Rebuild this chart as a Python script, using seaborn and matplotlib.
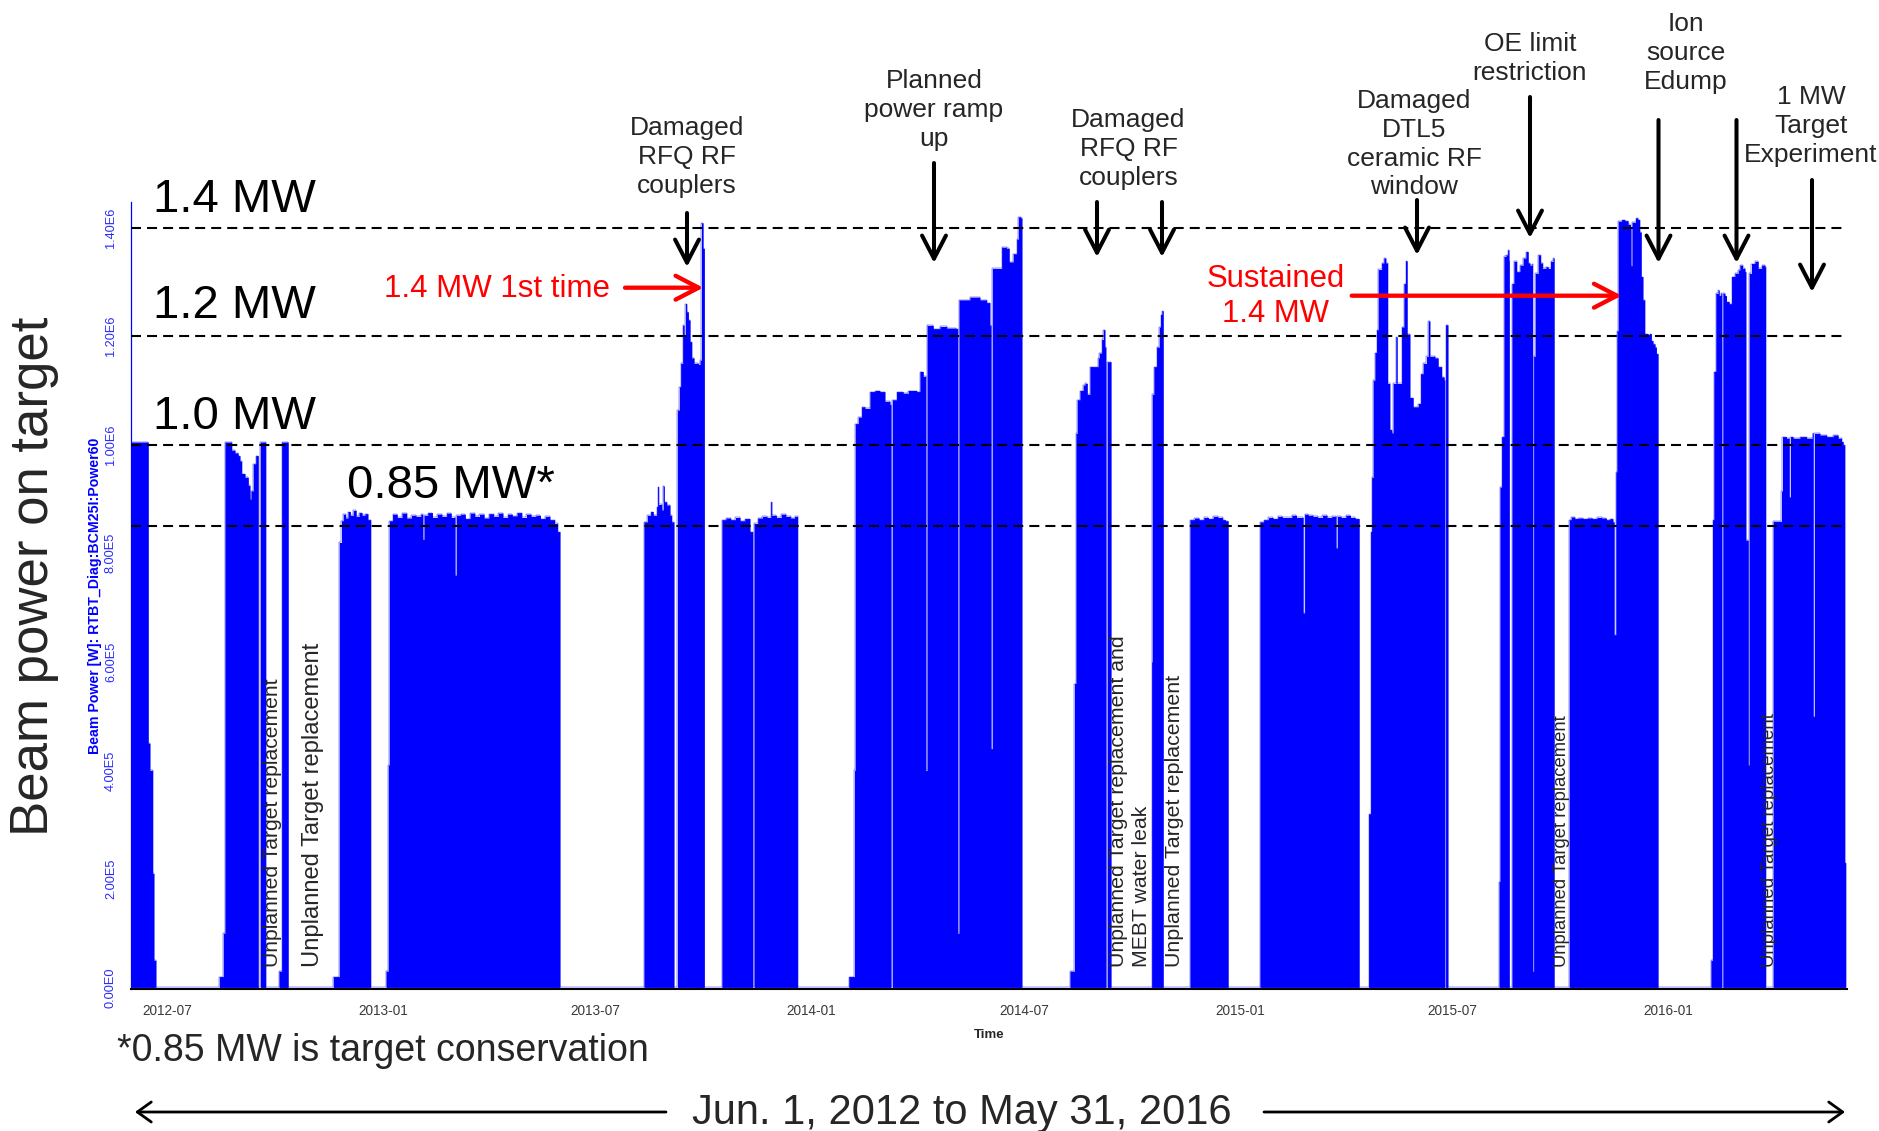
import numpy as np
import pandas as pd
import matplotlib
matplotlib.use("Agg")
import matplotlib.pyplot as plt
import matplotlib.dates as mdates
from matplotlib import font_manager
from matplotlib.patches import FancyArrowPatch
from matplotlib.ticker import FixedLocator, MultipleLocator
import seaborn as sns

# ---------------- data: (days since 2012-06-01, beam power in MW), step-post ----------------
START = "2012-06-01"
run_2012_jun = [(-0.9, 1.005), (13.9, 0.45), (15.3, 0.40), (17.6, 0.21), (18.7, 0.05), (20.4, 0.0)]
run_2012_aug = [(74.4, 0.02), (77.8, 0.10), (79.2, 1.005), (84.9, 0.99), (87.7, 0.985), (90.5, 0.98),
                (92.0, 0.97), (93.4, 0.947), (96.3, 0.94), (99.1, 0.925), (100.5, 0.90), (101.4, 0.915),
                (103.3, 0.965), (105.4, 0.98), (107.6, 0.0), (109.3, 1.005), (113.9, 0.0),
                (125.2, 0.03), (127.5, 1.005), (133.1, 0.0)]
run_2012_nov = [(171.5, 0.02), (176.6, 0.82), (178.5, 0.86), (180.0, 0.872), (182.0, 0.865), (184.0, 0.877),
                (186.0, 0.87), (188.5, 0.879), (191.0, 0.868), (193.5, 0.875), (196.0, 0.87), (198.5, 0.873),
                (201.0, 0.862), (203.3, 0.0)]
run_2013_jan = [(216.4, 0.03), (218.3, 0.41), (219.2, 0.86), (222, 0.872), (226, 0.866), (230, 0.874),
                (234, 0.865), (238, 0.87), (242, 0.868), (246, 0.872), (247.6, 0.826), (248.8, 0.87),
                (252, 0.875), (256, 0.866), (260, 0.872), (264, 0.868), (268, 0.874), (272, 0.866),
                (275.1, 0.76), (276.3, 0.87), (280, 0.872), (284, 0.864), (288, 0.874), (292, 0.868),
                (296, 0.872), (300, 0.865), (304, 0.873), (308, 0.868), (312, 0.874), (316, 0.866),
                (320, 0.872), (324, 0.869), (328, 0.875), (332, 0.866), (336, 0.872), (340, 0.868),
                (344, 0.87), (348, 0.864), (352, 0.868), (356, 0.862), (360, 0.855), (362.5, 0.84), (364.6, 0.0)]
run_2013_aug = [(436.1, 0.858), (439.0, 0.87), (441.8, 0.877), (444.1, 0.87), (446.9, 0.886), (447.8, 0.923),
                (448.6, 0.89), (451.2, 0.88), (452.6, 0.924), (453.5, 0.895), (455.5, 0.889), (458.3, 0.87),
                (459.7, 0.858), (461.7, 0.0)]
run_2013_sep = [(464.6, 1.064), (466.3, 1.107), (467.4, 1.15), (469.1, 1.22), (470.3, 1.20), (471.4, 1.26),
                (472.5, 1.245), (474.0, 1.23), (475.4, 1.19), (476.8, 1.16), (478.8, 1.15), (482.5, 1.148),
                (483.9, 1.156), (485.1, 1.409), (486.5, 1.362), (487.6, 0.0)]
run_2013_oct = [(502.5, 0.862), (506, 0.865), (510, 0.862), (514, 0.866), (518, 0.86), (522, 0.864),
                (526.4, 0.84), (528.7, 0.0), (529.9, 0.855), (533, 0.865), (537, 0.868), (541, 0.866),
                (544.1, 0.895), (545, 0.87), (549, 0.866), (553, 0.872), (557, 0.868), (561, 0.865),
                (564.5, 0.868), (567.0, 0.0)]
run_2014_feb = [(610.6, 0.02), (615.4, 0.40), (616.1, 1.039), (618.7, 1.051), (621.5, 1.07), (624.4, 1.067),
                (628.6, 1.098), (632.9, 1.10), (637.1, 1.098), (641.4, 1.08), (645.7, 1.074), (646.5, 0.0),
                (647.7, 1.083), (651.3, 1.098), (657.0, 1.095), (661.3, 1.10), (668.4, 1.098), (671.2, 1.135),
                (674.1, 1.126), (676.1, 0.40), (677.3, 1.22), (682.6, 1.214), (688.3, 1.218), (694.0, 1.215),
                (701.9, 1.214), (703.3, 0.10), (704.5, 1.267), (713.8, 1.272), (722.3, 1.267), (728.0, 1.262),
                (730.8, 1.22), (731.7, 0.44), (732.9, 1.325), (737.9, 1.325), (740.8, 1.364), (745.0, 1.362),
                (747.3, 1.337), (750.7, 1.352), (753.6, 1.379), (755.0, 1.42), (757.0, 1.418), (758.1, 0.0)]
run_2014_aug = [(799.0, 0.03), (802.8, 0.56), (804.1, 1.021), (805.2, 1.083), (807.5, 1.10), (810.3, 1.11),
                (811.8, 1.113), (813.8, 1.093), (816.0, 1.144), (821.7, 1.144), (823.0, 1.16), (824.0, 1.169),
                (826.0, 1.194), (827.4, 1.212), (828.8, 1.18), (829.6, 0.0), (830.8, 1.153), (834.0, 0.0)]
run_2014_oct = [(868.6, 0.6), (869.1, 1.093), (870.5, 1.144), (872.8, 1.18), (875.1, 1.217), (876.2, 1.24),
                (877.4, 1.247), (878.5, 0.0)]
run_2014_nov = [(901.2, 0.862), (905, 0.865), (909, 0.862), (913, 0.866), (917, 0.864), (921, 0.868),
                (925, 0.866), (929, 0.862), (931.5, 0.86), (933.8, 0.0)]
run_2015_jan = [(960.8, 0.858), (964, 0.862), (968, 0.866), (972, 0.864), (976, 0.868), (980, 0.866),
                (984, 0.866), (988, 0.87), (992, 0.866), (997.7, 0.69), (998.9, 0.872), (1002, 0.87),
                (1006, 0.868), (1010, 0.866), (1014, 0.87), (1018, 0.866), (1022, 0.868), (1025.6, 0.81),
                (1026.8, 0.868), (1030, 0.866), (1034, 0.87), (1038, 0.866), (1042, 0.864), (1045.4, 0.0)]
run_2015_apr = [(1053.4, 0.32), (1055.1, 0.84), (1056.0, 0.94), (1057.3, 1.119), (1058.8, 1.17), (1060.2, 1.212),
                (1061.6, 1.323), (1064.5, 1.335), (1066.4, 1.344), (1068.1, 1.335), (1069.6, 1.113),
                (1071.5, 1.028), (1073.0, 1.022), (1074.3, 1.113), (1076.7, 1.199), (1077.8, 1.113),
                (1081.5, 1.217), (1083.5, 1.297), (1084.9, 1.339), (1086.3, 1.204), (1088.6, 1.087),
                (1091.4, 1.07), (1095.7, 1.076), (1097.7, 1.131), (1099.9, 1.15), (1102.7, 1.163),
                (1104.2, 1.228), (1105.6, 1.163), (1109.9, 1.16), (1112.7, 1.144), (1115.6, 1.125),
                (1117.8, 1.119), (1118.2, 0.0), (1119.0, 1.221), (1121.0, 0.0)]
run_2015_aug = [(1164.5, 0.195), (1165.3, 0.922), (1166.7, 1.015), (1168.7, 1.347), (1170.4, 1.350),
                (1171.9, 1.359), (1173.0, 1.34), (1173.3, 0.0), (1175.5, 1.297), (1177.2, 1.338),
                (1179.5, 1.319), (1182.3, 1.331), (1185.1, 1.344), (1187.4, 1.356), (1189.4, 1.335),
                (1190.8, 1.331), (1192.8, 1.334), (1193.1, 0.03), (1194.0, 1.163), (1195.3, 1.316),
                (1197.9, 1.350), (1199.9, 1.335), (1201.6, 1.325), (1204.4, 1.328), (1206.4, 1.325),
                (1208.4, 1.338), (1210.6, 1.344), (1211.5, 0.0)]
run_2015_oct = [(1224.3, 0.862), (1226, 0.867), (1229, 0.864), (1232, 0.865), (1236, 0.864), (1240, 0.865),
                (1244, 0.864), (1248, 0.866), (1252, 0.865), (1256, 0.862), (1259, 0.864), (1261.5, 0.858),
                (1262.6, 0.65)]
run_2015_nov = [(1264.0, 0.95), (1264.9, 1.21), (1266.0, 1.412), (1268.9, 1.415), (1271.7, 1.413),
                (1274.5, 1.406), (1276.5, 1.40), (1276.8, 1.33), (1277.8, 1.41), (1280.8, 1.418),
                (1282.8, 1.415), (1284.3, 1.392), (1285.7, 1.31), (1287.1, 1.267), (1288.6, 1.205),
                (1291.4, 1.203), (1292.8, 1.205), (1294.3, 1.192), (1295.7, 1.186), (1297.4, 1.18),
                (1298.6, 1.168), (1300.0, 0.0)]
run_2016_feb = [(1345.0, 0.05), (1346.4, 0.862), (1347.5, 1.135), (1349.2, 1.279), (1351.2, 1.285),
                (1352.1, 1.275), (1353.5, 1.279), (1354.1, 0.0), (1355.2, 1.279), (1356.9, 1.275),
                (1358.3, 1.264), (1360.6, 1.26), (1362.6, 1.31), (1365.4, 1.316), (1368.3, 1.322),
                (1369.7, 1.331), (1372.0, 1.325), (1374.0, 1.319), (1374.8, 0.824), (1376.8, 0.41),
                (1377.6, 1.316), (1379.6, 1.334), (1382.5, 1.338), (1385.3, 1.325), (1388.2, 1.331),
                (1391.0, 1.328), (1391.6, 0.0)]
run_2016_apr = [(1398.0, 0.859), (1405.1, 0.915), (1406.0, 1.015), (1409.4, 1.012), (1411.7, 0.904),
                (1412.8, 1.015), (1415.1, 1.012), (1420.8, 1.015), (1426.5, 1.012), (1431.6, 1.021),
                (1432.1, 0.5), (1433.2, 1.021), (1437.8, 1.018), (1443.5, 1.015), (1449.2, 1.018),
                (1453.4, 1.012), (1456.3, 1.006), (1457.7, 1.0), (1459.0, 0.23), (1459.8, 0.0)]

runs = [run_2012_jun, run_2012_aug, run_2012_nov, run_2013_jan, run_2013_aug, run_2013_sep, run_2013_oct,
        run_2014_feb, run_2014_aug, run_2014_oct, run_2014_nov, run_2015_jan, run_2015_apr, run_2015_aug,
        run_2015_oct, run_2015_nov, run_2016_feb, run_2016_apr]

ref_levels_mw = [1.4, 1.2, 1.0, 0.85]
ref_labels = ["1.4 MW", "1.2 MW", "1.0 MW", "0.85 MW*"]
ytick_values = [0, 2e5, 4e5, 6e5, 8e5, 1e6, 1.2e6, 1.4e6]
ytick_labels = ["0.00E0", "2.00E5", "4.00E5", "6.00E5", "8.00E5", "1.00E6", "1.20E6", "1.40E6"]

event_notes = ["Damaged\nRFQ RF\ncouplers", "Planned\npower ramp\nup", "Damaged\nRFQ RF\ncouplers",
               "Damaged\nDTL5\nceramic RF\nwindow", "OE limit\nrestriction", "Ion\nsource\nEdump",
               "1 MW\nTarget\nExperiment"]
outage_notes = ["Unplanned Target replacement", "Unplanned Target replacement",
                "Unplanned Target replacement and", "MEBT water leak",
                "Unplanned Target replacement", "Unplanned Target replacement",
                "Unplanned Target replacement"]

# ---------------- build table ----------------
days = [d for run in runs for d, _ in run]
mw = [v for run in runs for _, v in run]
df = pd.DataFrame({"time": pd.Timestamp(START) + pd.to_timedelta(days, unit="D"),
                   "power": np.array(mw) * 1e6})

# ---------------- style ----------------
sns.set_style("white")
plt.rcParams["font.family"] = ["Liberation Sans", "DejaVu Sans"]
names = {f.name for f in font_manager.fontManager.ttflist}
narrow = "Liberation Sans Narrow" in names
tick_family = ["Liberation Sans Narrow", "Liberation Sans"] if narrow else ["Liberation Sans", "DejaVu Sans"]
k = 1.2 if narrow else 1.0

W, H = 1879, 1131
fig = plt.figure(figsize=(W / 100, H / 100), dpi=100)
ax = fig.add_axes([0.0696, 0.1255, 0.9134, 0.6962])

def fx(x):
    return x / W

def fy(y):
    return 1 - y / H

BLUE = "#0000FF"
ax.fill_between(df["time"], df["power"], 0, step="post", color=BLUE, lw=0, zorder=2)
sns.lineplot(data=df, x="time", y="power", drawstyle="steps-post", color=BLUE, lw=0.3,
             estimator=None, sort=False, errorbar=None, ax=ax, zorder=2)

ax.set_xlim(pd.Timestamp("2012-05-31"), pd.Timestamp("2016-06-01"))
ax.set_ylim(-3000, 1.448e6)

for lv in ref_levels_mw:
    ax.axhline(lv * 1e6, color="black", lw=1.5, dashes=(4.8, 2.9), zorder=4)

# axes styling
for s in ["top", "right"]:
    ax.spines[s].set_visible(False)
ax.spines["left"].set_color(BLUE)
ax.spines["left"].set_linewidth(0.9)
ax.spines["bottom"].set_color("black")
ax.spines["bottom"].set_linewidth(1.5)
ax.spines["bottom"].set_zorder(5)

ax.yaxis.set_major_locator(FixedLocator(ytick_values))
ax.yaxis.set_minor_locator(MultipleLocator(4e4))
ax.set_yticklabels(ytick_labels, rotation=90, va="center", color="#2a2aff",
                   fontsize=9.2 * k, family=tick_family)
ax.tick_params(axis="y", which="major", direction="out", length=7.5, width=1.5, colors=BLUE, pad=2.5)
ax.tick_params(axis="y", which="minor", direction="out", length=3, width=0.8, colors=BLUE)
for t in ax.get_yticklabels():
    t.set_color("#2a2aff")

ax.xaxis.set_major_locator(mdates.MonthLocator(bymonth=[1, 7]))
ax.xaxis.set_major_formatter(mdates.DateFormatter("%Y-%m"))
ax.xaxis.set_minor_locator(mdates.MonthLocator())
ax.tick_params(axis="x", which="major", direction="out", length=7.5, width=2, colors="black",
               labelcolor="#3a3a3a", labelsize=9.8 * k, pad=3)
ax.tick_params(axis="x", which="minor", direction="inout", length=4, width=0.8, colors="black")
for t in ax.get_xticklabels():
    t.set_family(tick_family)

ax.set_xlabel("Time", fontsize=9.5 * k, fontweight="bold", family=tick_family)
ax.xaxis.set_label_coords(0.5, -0.051)
ax.set_ylabel("Beam Power [W]: RTBT_Diag:BCM25I:Power60", fontsize=10.2 * k, fontweight="bold",
              color=BLUE, family=tick_family)
ax.yaxis.set_label_coords(-0.0165, 0.5)
ax.grid(False)

# ---------------- big level labels ----------------
level_pos = [(153, 211.7), (153, 318), (153, 429), (347, 498.5)]
for lab, (x, y) in zip(ref_labels, level_pos):
    fig.text(fx(x), fy(y), lab, fontsize=34, ha="left", va="baseline", color="black")

fig.text(fx(34), fy(576), "Beam power on target", rotation=90, fontsize=38, ha="center", va="center")

# ---------------- event annotations with black arrows ----------------
note_pos = [(687, 135), (934, 88), (1128.5, 127), (1414, 108), (1530, 51.2), (1686, 31.2), (1811, 104.5)]
PITCH = 28.8
for txt, (cx, b0) in zip(event_notes, note_pos):
    for i, line in enumerate(txt.split("\n")):
        fig.text(fx(cx), fy(b0 + i * PITCH), line, fontsize=19, ha="center", va="baseline")

black_arrows = [(687, 213, 267), (934, 163, 263), (1097, 202, 257), (1162, 202, 257), (1417, 200, 255),
                (1530, 97, 238), (1658.5, 120, 263), (1736.5, 120, 263), (1812, 180, 292)]

def arrow(x0, y0, x1, y1, color, lw, hl, hw, ms=20):
    p = FancyArrowPatch((fx(x0), fy(y0)), (fx(x1), fy(y1)), transform=fig.transFigure,
                        arrowstyle=f"->,head_length={hl},head_width={hw}", mutation_scale=ms,
                        lw=lw, color=color, shrinkA=0, shrinkB=0, zorder=10)
    p.set_capstyle("round")
    p.set_joinstyle("round")
    fig.add_artist(p)

for x, y0, y1 in black_arrows:
    arrow(x, y0, x, y1, "black", 2.9, 0.83, 0.43)

# ---------------- red annotations ----------------
RED = "#FF0000"
fig.text(fx(384), fy(297.5), "1.4 MW 1st time", color=RED, fontsize=22.5, ha="left", va="baseline")
arrow(625, 287.7, 703.3, 287.7, RED, 3.1, 0.83, 0.43)
fig.text(fx(1276), fy(287.3), "Sustained", color=RED, fontsize=22.4, ha="center", va="baseline")
fig.text(fx(1276), fy(321.7), "1.4 MW", color=RED, fontsize=22.4, ha="center", va="baseline")
arrow(1351.7, 295.7, 1621.7, 295.7, RED, 3.1, 0.83, 0.43)

# ---------------- vertical outage notes ----------------
outage_pos = [(272.5, 15.2), (312.5, 17.1), (1119, 15.3), (1141.5, 15.3), (1175, 15.4), (1562, 13.3), (1770, 13.4)]
for txt, (x, fs) in zip(outage_notes, outage_pos):
    fig.text(fx(x), fy(967), txt, rotation=90, fontsize=fs, ha="center", va="bottom", zorder=6)

# ---------------- footer ----------------
fig.text(fx(117), fy(1061), "*0.85 MW is target conservation", fontsize=27, ha="left", va="baseline")
fig.text(fx(962), fy(1124), "Jun. 1, 2012 to May 31, 2016", fontsize=30, ha="center", va="baseline")
arrow(666, 1112, 135, 1112, "black", 2.0, 0.5, 0.36)
arrow(1264, 1112, 1845, 1112, "black", 2.0, 0.5, 0.36)

fig.savefig("out.png", dpi=100)
